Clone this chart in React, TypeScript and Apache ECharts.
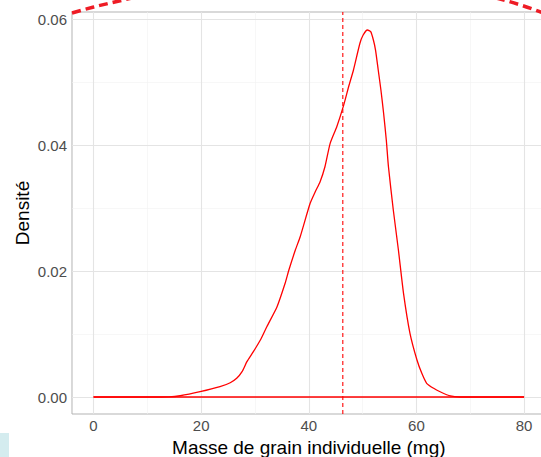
import React, { useEffect, useRef } from "react";
import * as echarts from "echarts";

// Density estimate of individual grain mass (mg)
const densityX = [
  0, 10, 14, 16.1, 19.8, 23.5, 25.4, 26.6, 27.6, 28.5, 29.7, 31.0, 32.2, 34.1,
  35.6, 36.3, 37.5, 38.4, 40.25, 41.2, 42.1, 43.0, 43.97, 45.2, 46.4, 47.4,
  48.3, 49.5, 50.1, 50.9, 51.5, 52.0, 52.4, 52.9, 53.4, 53.9, 54.4, 54.8, 55.7,
  56.65, 57.6, 58.8, 60.1, 61.0, 61.9, 63.2, 64.4, 66.3, 68.1, 70, 80,
];
const densityY = [
  0, 0, 0.00003, 0.0002, 0.00084, 0.00164, 0.00227, 0.00297, 0.00402, 0.00561,
  0.0072, 0.00905, 0.01117, 0.01434, 0.01806, 0.02017, 0.02335, 0.02546,
  0.03077, 0.03261, 0.0342, 0.03658, 0.0403, 0.04294, 0.04612, 0.04929,
  0.05195, 0.05619, 0.0575, 0.0583, 0.05803, 0.05671, 0.05512, 0.05195,
  0.04877, 0.04507, 0.04083, 0.03658, 0.02971, 0.02335, 0.01647, 0.01012,
  0.00588, 0.00376, 0.00218, 0.00138, 0.00084, 0.00016, 0, 0, 0,
];
const baselineX = [0, 80];
const baselineY = [0, 0];
const meanMass = 46.32;

const xMin = -4;
const xMax = 84;
const yMin = -0.0027;
const yMax = 0.06116;
const xTicks = [0, 20, 40, 60, 80];
const xMinor = [10, 30, 50, 70];
const yTicks = [0, 0.02, 0.04, 0.06];
const yMinor = [0.01, 0.03, 0.05];
const xTitle = "Masse de grain individuelle (mg)";
const yTitle = "Densité";

const FONT = "'Liberation Sans', Arial, Helvetica, sans-serif";

export default function App() {
  const ref = useRef<HTMLDivElement>(null);

  useEffect(() => {
    if (!ref.current) return;
    const chart = echarts.init(ref.current, undefined, { renderer: "svg" });

    const major = { color: "#e4e4e4", width: 1.1, type: "solid" as const };
    const minor = { color: "#f1f1f1", width: 0.6, type: "solid" as const };

    const gridLines = [
      ...xMinor.map((v) => ({ xAxis: v, lineStyle: minor })),
      ...yMinor.map((v) => ({ yAxis: v, lineStyle: minor })),
      ...xTicks.map((v) => ({ xAxis: v, lineStyle: major })),
      ...yTicks.map((v) => ({ yAxis: v, lineStyle: major })),
    ];

    chart.setOption({
      animation: false,
      backgroundColor: "#ffffff",
      textStyle: { fontFamily: FONT },
      grid: {
        left: 72,
        top: 12,
        right: -4.6,
        bottom: 43,
        outerBoundsMode: "none",
        containLabel: false,
        show: true,
        borderColor: "#b3b3b3",
        borderWidth: 1,
        backgroundColor: "transparent",
      },
      xAxis: {
        type: "value",
        min: xMin,
        max: xMax,
        name: xTitle,
        nameLocation: "middle",
        nameGap: 24,
        nameTextStyle: { fontSize: 19, color: "#000000", fontFamily: FONT },
        axisLine: { show: false },
        axisTick: {
          show: true,
          length: 4,
          customValues: xTicks,
          lineStyle: { color: "#b3b3b3", width: 1 },
        },
        axisLabel: {
          customValues: xTicks,
          fontSize: 15,
          color: "#4d4d4d",
          margin: 4,
          fontFamily: FONT,
        },
        splitLine: { show: false },
      },
      yAxis: {
        type: "value",
        min: yMin,
        max: yMax,
        name: yTitle,
        nameLocation: "middle",
        nameRotate: 90,
        nameGap: 40,
        nameMoveOverlap: false,
        nameTextStyle: { fontSize: 19, color: "#000000", fontFamily: FONT },
        axisLine: { show: false },
        axisTick: {
          show: true,
          length: 4,
          customValues: yTicks,
          lineStyle: { color: "#b3b3b3", width: 1 },
        },
        axisLabel: {
          customValues: yTicks,
          fontSize: 15,
          color: "#4d4d4d",
          margin: 5,
          fontFamily: FONT,
          formatter: (v: number) => v.toFixed(2),
        },
        splitLine: { show: false },
      },
      series: [
        {
          type: "line",
          z: 1,
          data: [],
          symbol: "none",
          silent: true,
          markLine: {
            z: 1,
            silent: true,
            symbol: ["none", "none"],
            label: { show: false },
            data: gridLines,
          },
        },
        {
          type: "line",
          z: 6,
          data: baselineX.map((x, i) => [x, baselineY[i]]),
          symbol: "none",
          lineStyle: { color: "#ff0000", width: 1.3 },
          silent: true,
        },
        {
          type: "line",
          z: 6,
          data: densityX.map((x, i) => [x, densityY[i]]),
          symbol: "none",
          smooth: 0.2,
          lineStyle: { color: "#ff0000", width: 1.3 },
          silent: true,
        },
        {
          type: "line",
          z: 8,
          data: [
            [meanMass, yMin],
            [meanMass, yMax],
          ],
          symbol: "none",
          silent: true,
          lineStyle: { color: "#ff0000", width: 1.1, type: [4, 3] },
        },
      ],
      graphic: [
        {
          type: "bezierCurve",
          silent: true,
          shape: { x1: 72, y1: 13, cpx1: 92, cpy1: 7, cpx2: 110, cpy2: 3, x2: 132, y2: -2 },
          style: { stroke: "#ee1c25", lineWidth: 3.5, lineDash: [9, 5], fill: null },
        },
        {
          type: "bezierCurve",
          silent: true,
          shape: { x1: 496, y1: -2, cpx1: 512, cpy1: 2, cpx2: 528, cpy2: 7, x2: 543, y2: 13 },
          style: { stroke: "#ee1c25", lineWidth: 3.5, lineDash: [9, 5], fill: null },
        },
        {
          type: "rect",
          silent: true,
          shape: { x: 0, y: 433, width: 9, height: 24 },
          style: { fill: "#d4ecef" },
        },
      ],
    });

    return () => chart.dispose();
  }, []);

  return (
    <div
      ref={ref}
      style={{ position: "fixed", left: 0, top: 0, width: 541, height: 457 }}
    />
  );
}
